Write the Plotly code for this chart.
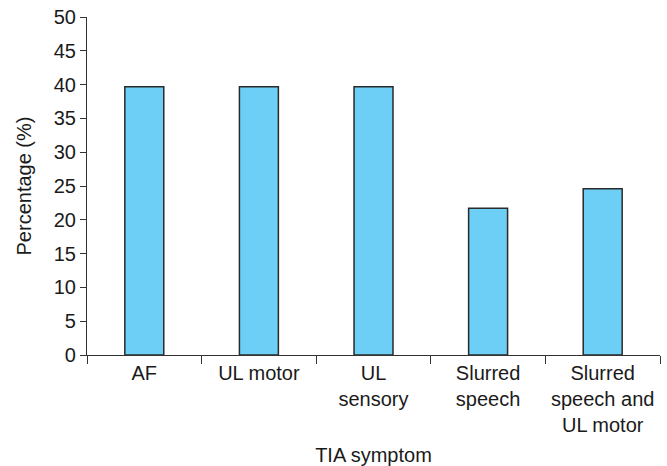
import plotly.graph_objects as go

# TIA symptom categories and percentage of patients
categories = ["AF", "UL motor", "UL<br>sensory", "Slurred<br>speech", "Slurred<br>speech and<br>UL motor"]
percentages = [39.7, 39.7, 39.7, 21.7, 24.6]
y_ticks = [0, 5, 10, 15, 20, 25, 30, 35, 40, 45, 50]

fig = go.Figure(
    go.Bar(
        x=categories,
        y=percentages,
        width=0.34,
        marker=dict(color="#6DCFF6", line=dict(color="#2a2a2a", width=1.5)),
    )
)

axis_font = dict(family="Liberation Sans, Arial, sans-serif", size=20, color="#1a1a1a")

fig.update_layout(
    width=667,
    height=466,
    margin=dict(l=87, r=7, t=17, b=111),
    plot_bgcolor="white",
    paper_bgcolor="white",
    showlegend=False,
    font=axis_font,
    xaxis=dict(
        type="category",
        tickson="boundaries",
        ticks="outside",
        ticklen=8,
        tickcolor="#333",
        showline=True,
        linecolor="#333",
        linewidth=1.2,
        showgrid=False,
        automargin=False,
        tickfont=axis_font,
        title=dict(text="TIA symptom", font=axis_font, standoff=12),
    ),
    yaxis=dict(
        range=[0, 50],
        tickvals=y_ticks,
        ticks="outside",
        ticklen=6,
        tickcolor="#333",
        showline=True,
        linecolor="#333",
        linewidth=1.2,
        showgrid=False,
        zeroline=False,
        automargin=False,
        tickfont=axis_font,
        title=dict(text="Percentage (%)", font=axis_font, standoff=16),
    ),
)

fig.write_html("out.html")
